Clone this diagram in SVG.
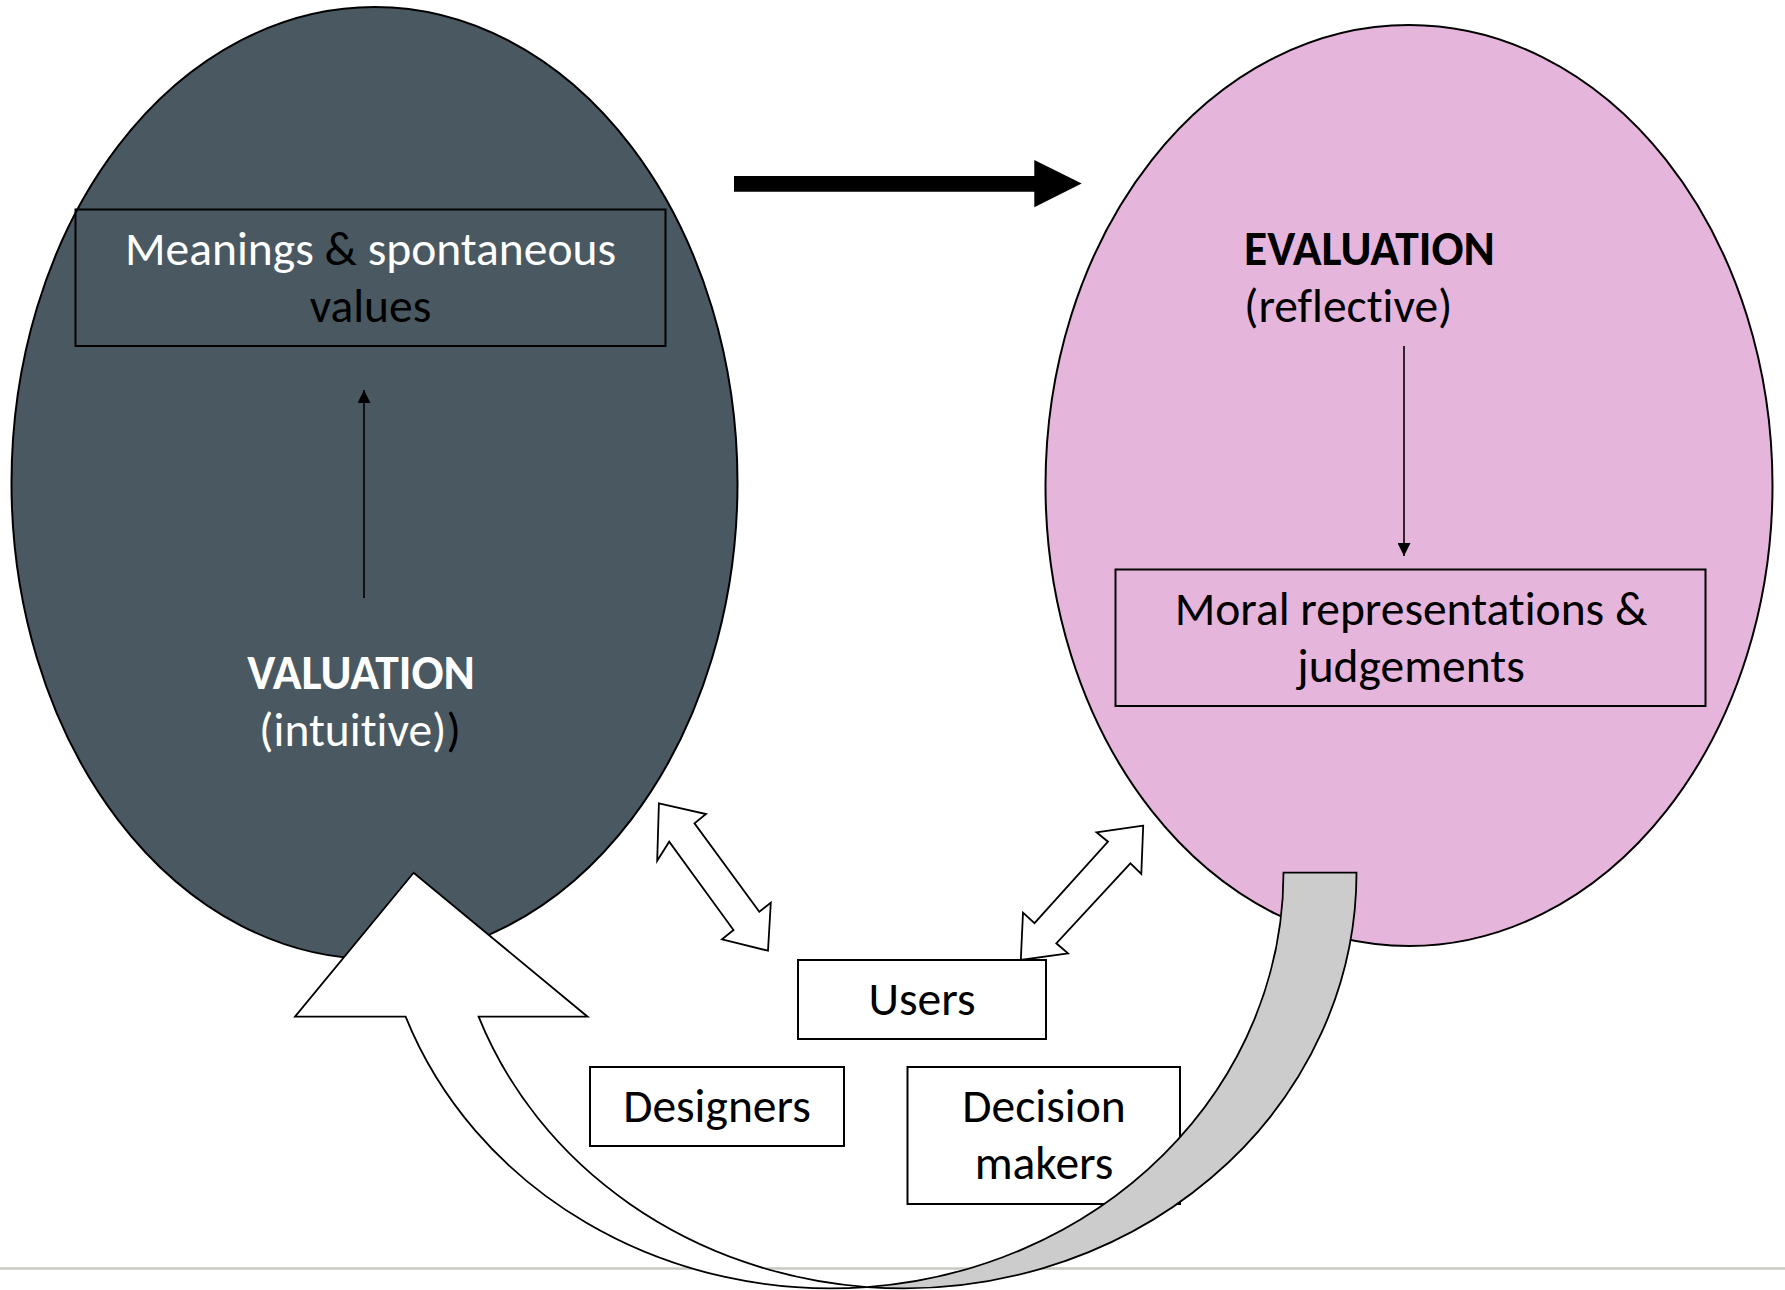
<svg xmlns="http://www.w3.org/2000/svg" width="1785" height="1290" viewBox="0 0 1785 1290">
  <style>
    .lbl { font-family: Carlito, Lato, "Open Sans", sans-serif; font-size: 47.5px; fill: #000; font-variant-ligatures: none; font-feature-settings: "liga" 0; }
    .bold { font-weight: bold; }
    .ctr { text-anchor: middle; }
    .wt { fill: #ffffff; }
    .bk { fill: #000000; }
    .outline { stroke: #000; stroke-width: 2; }
    .box { fill: none; stroke: #000; stroke-width: 2; }
    .wbox { fill: #ffffff; stroke: #000; stroke-width: 2; }
    .thin { fill: none; stroke: #000; stroke-width: 1.6; }
    .block { fill: #ffffff; stroke: #000; stroke-width: 1.8; stroke-linejoin: miter; }
  </style>
  <defs>
    <marker id="tip" viewBox="0 0 13 13" refX="13" refY="6.5" markerWidth="13" markerHeight="13" markerUnits="userSpaceOnUse" orient="auto">
      <path d="M0,0 L13,6.5 L0,13 z" fill="#000"/>
    </marker>
  </defs>

  <rect width="1785" height="1290" fill="#ffffff"/>

  <!-- slide footer rule -->
  <line x1="0" y1="1268.5" x2="1785" y2="1268.5" stroke="#c9c9c1" stroke-width="2.5"/>

  <!-- intuitive valuation -->
  <g id="node-valuation">
    <ellipse cx="374.5" cy="483" rx="363" ry="476" fill="#4a5961" class="outline"/>
    <text class="lbl bold ctr wt" x="361" y="689">VALUATION</text>
    <text class="lbl ctr" x="360" y="746"><tspan class="wt">(intuitive)</tspan><tspan class="bk">)</tspan></text>
  </g>

  <g id="node-meanings">
    <rect x="75.5" y="209.5" width="590" height="136.5" class="box"/>
    <text class="lbl ctr" x="370.5" y="265"><tspan class="wt">Meanings</tspan><tspan class="bk"> &amp; </tspan><tspan class="wt">spontaneous</tspan></text>
    <text class="lbl ctr bk" x="370.5" y="322">values</text>
  </g>

  <!-- reflective evaluation -->
  <g id="node-evaluation">
    <ellipse cx="1409" cy="485.5" rx="363.5" ry="460.5" fill="#e6b5dc" class="outline"/>
    <text class="lbl bold" x="1244" y="265">EVALUATION</text>
    <text class="lbl" x="1244" y="322">(reflective)</text>
  </g>

  <g id="node-moral">
    <rect x="1115.5" y="569.5" width="590" height="136.5" class="box"/>
    <text class="lbl ctr" x="1411" y="624.5">Moral representations &amp;</text>
    <text class="lbl ctr" x="1411" y="681.5">judgements</text>
  </g>

  <!-- actors -->
  <g id="node-users">
    <rect x="798" y="960" width="248" height="79" class="wbox"/>
    <text class="lbl ctr" x="922" y="1015">Users</text>
  </g>
  <g id="node-designers">
    <rect x="590" y="1067" width="254" height="79" class="wbox"/>
    <text class="lbl ctr" x="717" y="1122">Designers</text>
  </g>
  <g id="node-decision">
    <rect x="907.5" y="1067" width="272.5" height="137" class="wbox"/>
    <text class="lbl ctr" x="1044" y="1122">Decision</text>
    <text class="lbl ctr" x="1044" y="1178.5">makers</text>
  </g>

  <g id="connectors">
    <!-- valuation to evaluation -->
    <polygon points="734,176 1034.3,176 1034.3,160 1081.7,183.5 1034.3,207.3 1034.3,191.7 734,191.7" fill="#000"/>
    <!-- inner arrows -->
    <line x1="364" y1="598" x2="364" y2="390" class="thin" marker-end="url(#tip)"/>
    <line x1="1404" y1="346" x2="1404" y2="556" class="thin" marker-end="url(#tip)"/>
    <!-- two-way block arrows -->
    <polygon class="block" points="658.9,803.3 706,814 694.5,823.3 759.3,911.7 770.8,902.7 768,950.7 722,939.3 733.5,930 669.2,841.7 657.2,860.7"/>
    <polygon class="block" points="1143.2,825.7 1096.5,832.3 1108,841.7 1034.5,923.2 1023,912.7 1020.8,960 1068,953.3 1056.3,943.3 1130.4,863.3 1141.3,874"/>
    <!-- curved return arrow: two congruent elliptical edges crossing at the bottom -->
    <path class="block" d="M413.6,872.7 L295,1016.7 L405.6,1016.7
      A453,415.7 0 0 0 867,1287.05
      A453,415.7 0 0 1 478.6,1016.7
      L587.6,1016.7 Z"/>
    <path fill="#cccccc" stroke="#000" stroke-width="1.8" stroke-linejoin="miter" d="M867,1287.05
      A453,415.7 0 0 0 1283.5,872.7
      L1356.5,872.7
      A453,415.7 0 0 1 867,1287.05 Z"/>
  </g>
</svg>
